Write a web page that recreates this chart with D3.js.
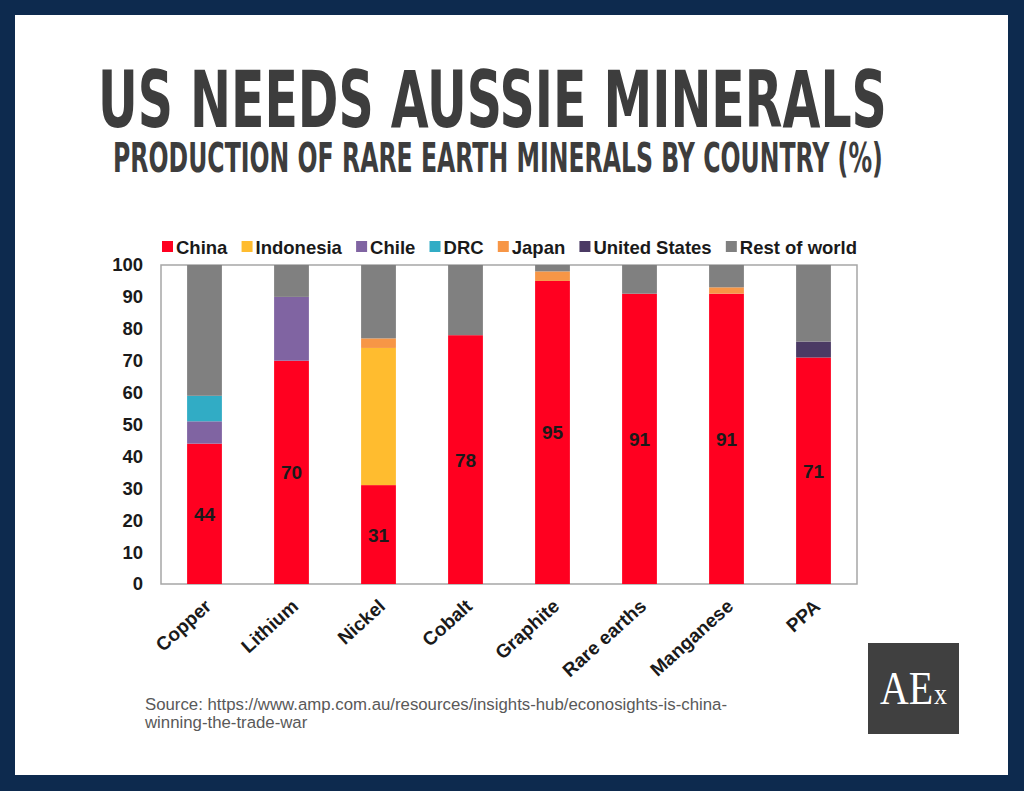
<!DOCTYPE html>
<html lang="en">
  <head>
    <title>US needs Aussie minerals</title>
    <style>
      html,
      body {
        margin: 0;
        padding: 0;
        background: #0d2a4e;
      }

      svg {
        display: block;
      }
    </style>
    <script src="https://d3js.org/d3.v7.min.js"></script>
  </head>
  <body>
    <svg width="1024" height="791"></svg>

    <script>
      // data
      var minerals = ['Copper', 'Lithium', 'Nickel', 'Cobalt', 'Graphite', 'Rare earths', 'Manganese', 'PPA'];
      var countries = ['China', 'Indonesia', 'Chile', 'DRC', 'Japan', 'United States', 'Rest of world'];
      var colours = ['#ff0020', '#ffbc2f', '#8064a2', '#31acc5', '#f79646', '#4b3a64', '#808080'];

      var china        = [44, 70, 31, 78, 95, 91, 91, 71];
      var indonesia    = [0, 0, 43, 0, 0, 0, 0, 0];
      var chile        = [7, 20, 0, 0, 0, 0, 0, 0];
      var drc          = [8, 0, 0, 0, 0, 0, 0, 0];
      var japan        = [0, 0, 3, 0, 3, 0, 2, 0];
      var unitedStates = [0, 0, 0, 0, 0, 0, 0, 5];
      var restOfWorld  = [41, 10, 23, 22, 2, 9, 7, 24];

      var yTicks = [0, 10, 20, 30, 40, 50, 60, 70, 80, 90, 100];

      var series = [china, indonesia, chile, drc, japan, unitedStates, restOfWorld];

      var table = minerals.map(function(m, i) {
        var row = { mineral: m };
        countries.forEach(function(c, j) { row[c] = series[j][i]; });
        return row;
      });

      var svg = d3.select('svg');
      var sans = 'Liberation Sans, Arial, sans-serif';

      // white panel inside the navy frame
      svg.append('rect')
        .attr('x', 15).attr('y', 15)
        .attr('width', 993).attr('height', 760)
        .attr('fill', '#fff');

      // titles: a condensed look, squeezed to the measured width and stretched up
      function squeezed(str, x0, y0, width, size, stretch) {
        var t = svg.append('text')
          .attr('font-family', 'DejaVu Sans Condensed, DejaVu Sans, sans-serif')
          .attr('font-weight', 'bold')
          .attr('font-size', size)
          .attr('fill', '#3d3d3d')
          .text(str);
        var w = t.node().getComputedTextLength();
        t.attr('transform', 'translate(' + x0 + ',' + y0 + ') scale(' + (width / w) + ',' + stretch + ')');
      }
      squeezed('US NEEDS AUSSIE MINERALS', 98, 127, 789, 64, 1.22);
      squeezed('PRODUCTION OF RARE EARTH MINERALS BY COUNTRY (%)', 113, 172, 770, 34, 1.2);

      var margin = { left: 161, right: 857, top: 265, bottom: 584 };

      var x = d3.scaleBand()
        .domain(minerals)
        .range([margin.left, margin.right])
        .paddingInner(0.6)
        .paddingOuter(0.3);

      var y = d3.scaleLinear()
        .domain([0, 100])
        .range([margin.bottom, margin.top]);

      var stack = d3.stack().keys(countries)(table);

      // plot frame
      svg.append('rect')
        .attr('x', margin.left).attr('y', margin.top)
        .attr('width', margin.right - margin.left)
        .attr('height', margin.bottom - margin.top)
        .attr('fill', 'none')
        .attr('stroke', '#a6a6a6')
        .attr('stroke-width', 1.5);

      svg.append('g')
        .selectAll('g')
        .data(stack)
        .enter().append('g')
        .attr('fill', function(d, i) { return colours[i]; })
        .selectAll('rect')
        .data(function(d) { return d; })
        .enter().append('rect')
        .attr('x', function(d) { return x(d.data.mineral); })
        .attr('y', function(d) { return y(d[1]); })
        .attr('width', x.bandwidth())
        .attr('height', function(d) { return y(d[0]) - y(d[1]); });

      // China value labels
      svg.append('g')
        .selectAll('text')
        .data(stack[0])
        .enter().append('text')
        .attr('x', function(d) { return x(d.data.mineral) + x.bandwidth() / 2; })
        .attr('y', function(d) { return y((d[0] + d[1]) / 2) + 7; })
        .attr('text-anchor', 'middle')
        .attr('font-family', sans)
        .attr('font-weight', 'bold')
        .attr('font-size', 19)
        .attr('fill', '#1a1a1a')
        .text(function(d) { return d.data.China; });

      // y axis
      var yAxis = svg.append('g')
        .attr('transform', 'translate(' + margin.left + ',0)')
        .call(d3.axisLeft(y).tickValues(yTicks).tickSize(0).tickPadding(18));
      yAxis.select('.domain').remove();
      yAxis.selectAll('text')
        .attr('font-family', sans)
        .attr('font-weight', 'bold')
        .attr('font-size', 18.5)
        .attr('fill', '#1a1a1a');

      // x axis, rotated labels
      var xAxis = svg.append('g')
        .attr('transform', 'translate(0,' + margin.bottom + ')')
        .call(d3.axisBottom(x).tickSize(0).tickPadding(0));
      xAxis.select('.domain').remove();
      xAxis.selectAll('text')
        .attr('font-family', sans)
        .attr('font-weight', 'bold')
        .attr('font-size', 19)
        .attr('fill', '#1a1a1a')
        .attr('text-anchor', 'end')
        .attr('dy', 0)
        .attr('transform', 'translate(8,24) rotate(-42)');

      // legend, spread to span the plot width
      var legend = svg.append('g')
        .attr('font-family', sans)
        .attr('font-weight', 'bold')
        .attr('font-size', 18.5)
        .attr('fill', '#1a1a1a');

      var lx = 162;
      var items = [];
      countries.forEach(function(c, i) {
        var r = legend.append('rect')
          .attr('x', lx).attr('y', 241)
          .attr('width', 11).attr('height', 11)
          .attr('fill', colours[i]);
        var t = legend.append('text')
          .attr('x', lx + 14).attr('y', 254)
          .text(c);
        items.push([r, t]);
        lx += 14 + t.node().getComputedTextLength() + 6;
      });
      var extra = (857 - (lx - 6)) / (countries.length - 1);
      items.forEach(function(it, i) {
        it[0].attr('x', +it[0].attr('x') + extra * i);
        it[1].attr('x', +it[1].attr('x') + extra * i);
      });

      // source
      var source = svg.append('text')
        .attr('font-family', sans)
        .attr('font-size', 16.8)
        .attr('fill', '#595959');
      source.append('tspan').attr('x', 145).attr('y', 710)
        .text('Source: https://www.amp.com.au/resources/insights-hub/econosights-is-china-');
      source.append('tspan').attr('x', 145).attr('y', 728)
        .text('winning-the-trade-war');

      // logo
      svg.append('rect')
        .attr('x', 868).attr('y', 643)
        .attr('width', 91).attr('height', 91)
        .attr('fill', '#404040');
      var logo = svg.append('g')
        .attr('font-family', 'Liberation Serif, DejaVu Serif, serif')
        .attr('fill', '#fff');
      var ae = logo.append('text')
        .attr('x', 0).attr('y', 0)
        .attr('font-size', 46)
        .text('AE');
      var aeW = ae.node().getComputedTextLength();
      var lx2 = logo.append('text')
        .attr('x', aeW + 1).attr('y', 0)
        .attr('font-size', 30)
        .text('x');
      var total = aeW + 1 + lx2.node().getComputedTextLength();
      logo.attr('transform', 'translate(880,704) scale(' + (67 / total) + ',1)');
    </script>
  </body>
</html>
